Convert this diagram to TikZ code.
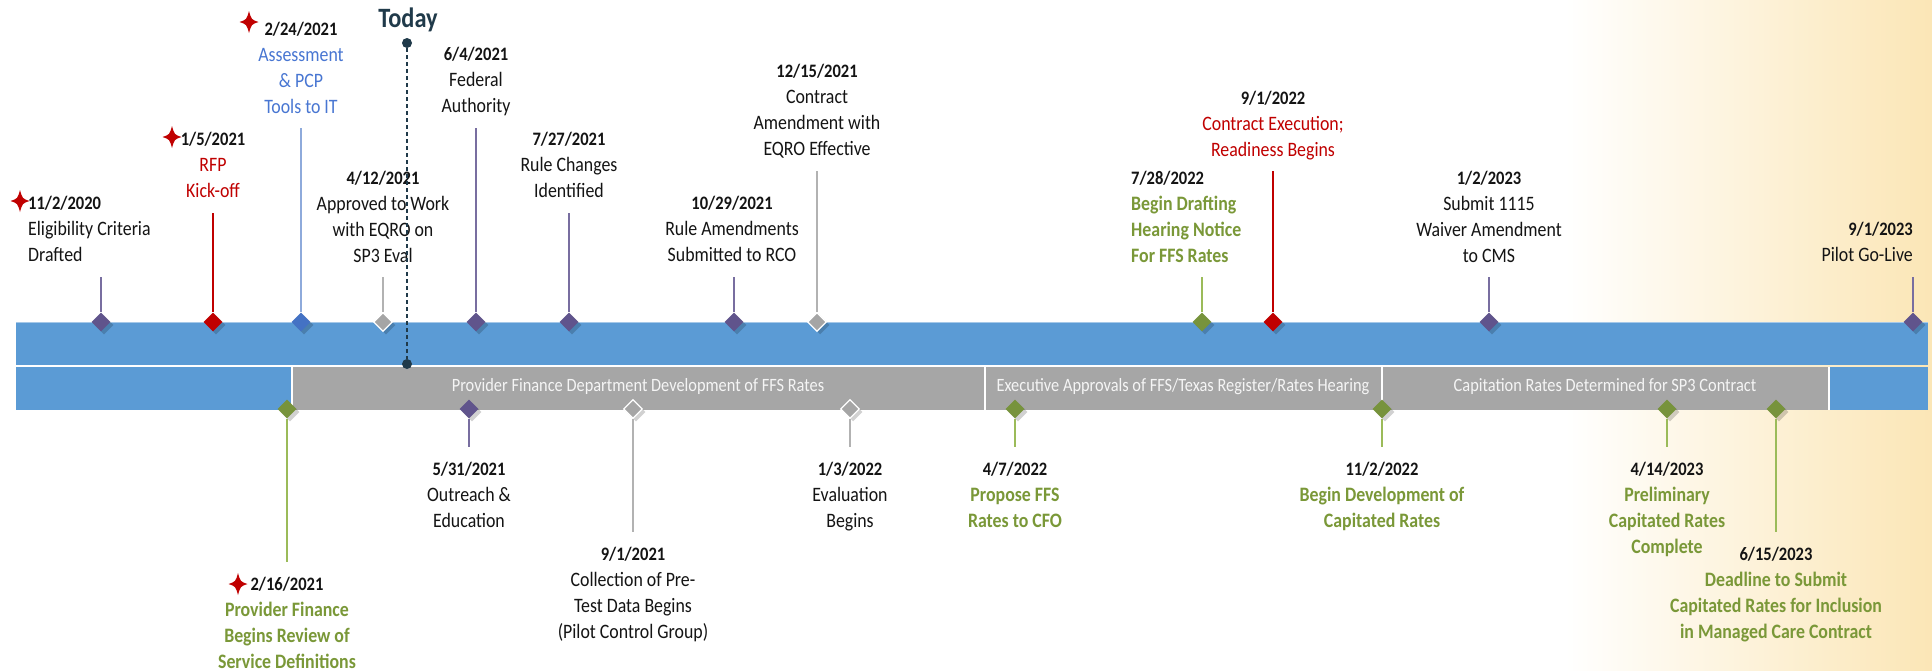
\documentclass[tikz,border=0pt]{standalone}
\usepackage{fontspec}
\setmainfont{Carlito}[FakeStretch=0.87]
\usetikzlibrary{shapes.geometric,shadows}
\definecolor{barblue}{RGB}{91,155,213}
\definecolor{bargrey}{RGB}{166,166,166}
\definecolor{beige}{RGB}{251,230,182}
\definecolor{purp}{RGB}{96,84,140}
\definecolor{purpstem}{RGB}{120,110,160}
\definecolor{redc}{RGB}{192,0,0}
\definecolor{bluec}{RGB}{68,114,196}
\definecolor{bluestem}{RGB}{142,170,219}
\definecolor{bluetxt}{RGB}{72,118,210}
\definecolor{greyc}{RGB}{165,165,165}
\definecolor{greystem}{RGB}{178,178,178}
\definecolor{greenc}{RGB}{119,147,60}
\definecolor{greenstem}{RGB}{155,187,89}
\definecolor{greentxt}{RGB}{122,152,56}
\definecolor{txtblack}{RGB}{20,20,20}
\definecolor{todaycol}{RGB}{32,58,74}
\definecolor{bartxt}{RGB}{245,245,245}
\newcommand{\dt}[1]{{\color{txtblack}\fontsize{19}{26}\selectfont\bfseries #1}\strut}
\newcommand{\sparkle}[2]{\fill[redc,shift={(#1,#2)}] (0,-11) .. controls (2.4,-2.4) .. (9.5,0) .. controls (2.4,2.4) .. (0,11) .. controls (-2.4,2.4) .. (-9.5,0) .. controls (-2.4,-2.4) .. (0,-11) -- cycle;}
\tikzset{
  lbl/.style={inner sep=0pt, align=center, anchor=north, text=txtblack, font=\fontsize{20.5}{26}\selectfont},
  gbold/.style={text=greentxt, font=\fontsize{20.5}{26}\selectfont\bfseries},
  dm/.style={diamond, minimum size=19pt, inner sep=0pt, fill=#1, drop shadow={shadow xshift=3pt, shadow yshift=-3pt, opacity=0.18, fill=black}},
  dmg/.style={dm=greyc, draw=white, line width=1.2pt},
  stem/.style={draw=#1, line width=1.6pt},
  barlbl/.style={inner sep=0pt, anchor=base, text=bartxt, font=\fontsize{18.8}{22}\selectfont},
  dot/.style={circle, fill=todaycol, minimum size=10pt, inner sep=0pt},
  todayline/.style={draw=todaycol, line width=2pt, dash pattern=on 4pt off 3pt}
}
\begin{document}
\begin{tikzpicture}[x=1pt,y=-1pt]
\useasboundingbox (0,0) rectangle (1932,670);
\fill[white] (0,0) rectangle (1932,670);
\shade[left color=white,right color=beige] (1565,0) rectangle (1932,670);
% bars
\fill[barblue] (16,322) rectangle (1928,365);
\draw[barblue!55!white, line width=1pt] (16,322.5) -- (1928,322.5);
\fill[barblue] (16,367) rectangle (292,410);
\fill[bargrey] (292,367) rectangle (1829,410);
\fill[barblue] (1829,367) rectangle (1928,410);
\draw[white, line width=1.5pt] (292,367) -- (292,410) (985,367) -- (985,410) (1382,367) -- (1382,410) (1829,367) -- (1829,410);
\node[barlbl] (g1) at (638,391) {Provider Finance Department Development of FFS Rates};
\node[barlbl] (g2) at (1183,391) {Executive Approvals of FFS/Texas Register/Rates Hearing};
\node[barlbl] (g3) at (1605,391) {Capitation Rates Determined for SP3 Contract};
% top diamonds
\node[dm=purp] (d1) at (101,322) {};
\node[dm=redc] (d2) at (213,322) {};
\node[dm=bluec] (d3) at (301,322) {};
\node[dmg] (d4) at (383,322) {};
\node[dm=purp] (d5) at (476,322) {};
\node[dm=purp] (d6) at (569,322) {};
\node[dm=purp] (d7) at (734,322) {};
\node[dmg] (d8) at (817,322) {};
\node[dm=greenc] (d9) at (1202,322) {};
\node[dm=redc] (d10) at (1273,322) {};
\node[dm=purp] (d11) at (1489,322) {};
\node[dm=purp] (d12) at (1913,322) {};
\coordinate (t1) at (101,277);
\coordinate (t2) at (213,213);
\coordinate (t3) at (301,128);
\coordinate (t4) at (383,277);
\coordinate (t5) at (476,128);
\coordinate (t6) at (569,213);
\coordinate (t7) at (734,277);
\coordinate (t8) at (817,171);
\coordinate (t9) at (1202,277);
\coordinate (t10) at (1273,171);
\coordinate (t11) at (1489,277);
\coordinate (t12) at (1913,277);
\draw[stem=purpstem] (t1) -- (d1);
\draw[stem=redc] (t2) -- (d2);
\draw[stem=bluestem] (t3) -- (d3);
\draw[stem=greystem] (t4) -- (d4);
\draw[stem=purpstem] (t5) -- (d5);
\draw[stem=purpstem] (t6) -- (d6);
\draw[stem=purpstem] (t7) -- (d7);
\draw[stem=greystem] (t8) -- (d8);
\draw[stem=greenstem] (t9) -- (d9);
\draw[stem=redc] (t10) -- (d10);
\draw[stem=purpstem] (t11) -- (d11);
\draw[stem=purpstem] (t12) -- (d12);
% bottom diamonds
\node[dm=greenc] (e1) at (287,409) {};
\node[dm=purp] (e2) at (469,409) {};
\node[dmg] (e3) at (633,409) {};
\node[dmg] (e4) at (850,409) {};
\node[dm=greenc] (e5) at (1015,409) {};
\node[dm=greenc] (e6) at (1382,409) {};
\node[dm=greenc] (e7) at (1667,409) {};
\node[dm=greenc] (e8) at (1776,409) {};
\coordinate (b1) at (287,562);
\coordinate (b2) at (469,447);
\coordinate (b3) at (633,532);
\coordinate (b4) at (850,447);
\coordinate (b5) at (1015,447);
\coordinate (b6) at (1382,447);
\coordinate (b7) at (1667,447);
\coordinate (b8) at (1776,532);
\draw[stem=greenstem] (e1) -- (b1);
\draw[stem=purpstem] (e2) -- (b2);
\draw[stem=greystem] (e3) -- (b3);
\draw[stem=greystem] (e4) -- (b4);
\draw[stem=greenstem] (e5) -- (b5);
\draw[stem=greenstem] (e6) -- (b6);
\draw[stem=greenstem] (e7) -- (b7);
\draw[stem=greenstem] (e8) -- (b8);
% top labels
\node[lbl, anchor=north west, align=left] (l1) at (28,191) {\dt{11/2/2020}\\Eligibility Criteria\\Drafted};
\node[lbl, text=redc] (l2) at (213,127) {\dt{1/5/2021}\\RFP\\Kick-off};
\node[lbl, text=bluetxt] (l3) at (301,17) {\dt{2/24/2021}\\Assessment\\\& PCP\\Tools to IT};
\node[lbl] (l4) at (383,166) {\dt{4/12/2021}\\Approved to Work\\with EQRO on\\SP3 Eval};
\node[lbl] (l5) at (476,42) {\dt{6/4/2021}\\Federal\\Authority};
\node[lbl] (l6) at (569,127) {\dt{7/27/2021}\\Rule Changes\\Identified};
\node[lbl] (l7) at (732,191) {\dt{10/29/2021}\\Rule Amendments\\Submitted to RCO};
\node[lbl] (l8) at (817,59) {\dt{12/15/2021}\\Contract\\Amendment with\\EQRO Effective};
\node[lbl, gbold, anchor=north west, align=left] (l9) at (1131,166) {\dt{7/28/2022}\\Begin Drafting\\Hearing Notice\\For FFS Rates};
\node[lbl, text=redc] (l10) at (1273,86) {\dt{9/1/2022}\\Contract Execution;\\Readiness Begins};
\node[lbl] (l11) at (1489,166) {\dt{1/2/2023}\\Submit 1115\\Waiver Amendment\\to CMS};
\node[lbl, anchor=north east, align=right] (l12) at (1913,217) {\dt{9/1/2023}\\Pilot Go-Live};
% bottom labels
\node[lbl, gbold] (m1) at (287,572) {\dt{2/16/2021}\\Provider Finance\\Begins Review of\\Service Definitions};
\node[lbl] (m2) at (469,457) {\dt{5/31/2021}\\Outreach \&\\Education};
\node[lbl] (m3) at (633,542) {\dt{9/1/2021}\\Collection of Pre-\\Test Data Begins\\(Pilot Control Group)};
\node[lbl] (m4) at (850,457) {\dt{1/3/2022}\\Evaluation\\Begins};
\node[lbl, gbold] (m5) at (1015,457) {\dt{4/7/2022}\\Propose FFS\\Rates to CFO};
\node[lbl, gbold] (m6) at (1382,457) {\dt{11/2/2022}\\Begin Development of\\Capitated Rates};
\node[lbl, gbold] (m7) at (1667,457) {\dt{4/14/2023}\\Preliminary\\Capitated Rates\\Complete};
\node[lbl, gbold] (m8) at (1776,542) {\dt{6/15/2023}\\Deadline to Submit\\Capitated Rates for Inclusion\\in Managed Care Contract};
% stars
\sparkle{20}{201}
\sparkle{172}{137}
\sparkle{249}{22}
\sparkle{238}{584}
% today
\node[inner sep=0pt, anchor=base, text=todaycol, font=\fontsize{28}{32}\selectfont\bfseries] (today) at (408,27) {Today};
\node[dot] (tdtop) at (407,43) {};
\node[dot] (tdbot) at (407,364) {};
\draw[todayline] (tdtop) -- (tdbot);
\end{tikzpicture}
\end{document}
